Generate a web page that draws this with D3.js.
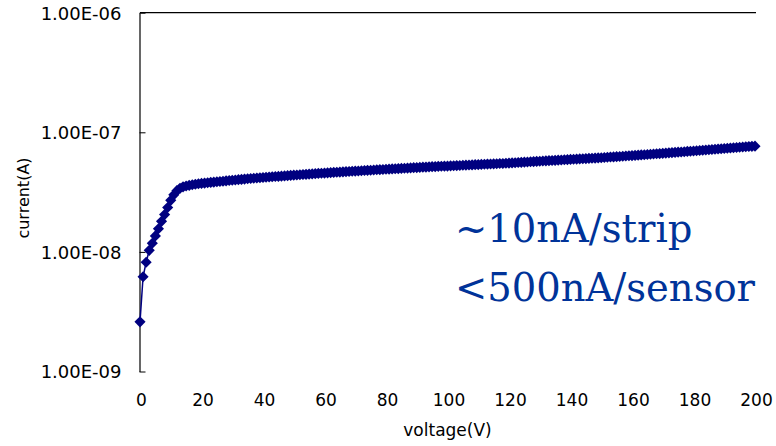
<!DOCTYPE html>
<html>
<head>
<meta charset="UTF-8">
<title>IV curve</title>
<style>
body { margin: 0; background: #fff; }
svg { display: block; }
.tick text { font-family: "DejaVu Sans", Verdana, sans-serif; fill: #000; }
</style>
</head>
<body>
<svg id="chart" width="776" height="446"></svg>
<script src="https://cdn.jsdelivr.net/npm/d3@7/dist/d3.min.js"></script>
<script>
// bias voltage in V, 1 V steps
let voltage = d3.range(0, 201);
// leakage current in nA
let currentNA = [
  2.6, 6.2, 8.2, 10.3, 11.8, 13.6, 15.6, 18.0, 20.5, 23.5,
  27.0, 30.0, 32.5, 34.0, 35.0, 35.6, 36.0, 36.4, 36.8, 37.1,
  37.4, 37.6, 37.9, 38.1, 38.3, 38.6, 38.8, 39.0, 39.3, 39.5,
  39.7, 39.9, 40.2, 40.4, 40.6, 40.9, 41.1, 41.3, 41.5, 41.7,
  41.9, 42.1, 42.3, 42.5, 42.7, 42.8, 43.0, 43.2, 43.4, 43.6,
  43.8, 44.0, 44.2, 44.4, 44.5, 44.7, 44.9, 45.1, 45.3, 45.5,
  45.6, 45.8, 46.0, 46.2, 46.3, 46.5, 46.7, 46.9, 47.0, 47.2,
  47.4, 47.5, 47.7, 47.9, 48.1, 48.2, 48.4, 48.6, 48.7, 48.9,
  49.1, 49.2, 49.4, 49.6, 49.7, 49.9, 50.1, 50.2, 50.4, 50.6,
  50.7, 50.9, 51.1, 51.2, 51.4, 51.6, 51.7, 51.9, 52.0, 52.1,
  52.2, 52.4, 52.5, 52.7, 52.8, 53.0, 53.1, 53.3, 53.4, 53.6,
  53.7, 53.9, 54.0, 54.2, 54.3, 54.5, 54.6, 54.8, 54.9, 55.1,
  55.3, 55.5, 55.7, 55.9, 56.1, 56.3, 56.5, 56.7, 56.9, 57.1,
  57.3, 57.5, 57.7, 57.9, 58.1, 58.3, 58.5, 58.7, 58.9, 59.1,
  59.3, 59.5, 59.7, 59.9, 60.1, 60.3, 60.5, 60.7, 60.9, 61.1,
  61.3, 61.6, 61.8, 62.1, 62.3, 62.6, 62.8, 63.1, 63.3, 63.6,
  63.9, 64.1, 64.4, 64.7, 64.9, 65.2, 65.5, 65.8, 66.1, 66.4,
  66.7, 67.0, 67.3, 67.6, 67.9, 68.2, 68.5, 68.8, 69.2, 69.5,
  69.8, 70.1, 70.5, 70.8, 71.1, 71.5, 71.8, 72.2, 72.5, 72.9,
  73.2, 73.6, 73.9, 74.3, 74.6, 75.0, 75.3, 75.7, 76.0, 76.3,
  76.6
];
let xTicks = [0, 20, 40, 60, 80, 100, 120, 140, 160, 180, 200];
let yTicks = [1e-9, 1e-8, 1e-7, 1e-6];
let yTickLabels = ["1.00E-09", "1.00E-08", "1.00E-07", "1.00E-06"];
let notes = ["~10nA/strip", "<500nA/sensor"];

let points = voltage.map((v, i) => ({ v: v, i: currentNA[i] * 1e-9 }));

let svg = d3.select("#chart");
let margin = { top: 12.7, right: 21, bottom: 74.5, left: 140 };
let width = 776, height = 446;

let x = d3.scaleLinear().domain([0, 200]).range([margin.left, width - margin.right]);
let y = d3.scaleLog().domain([1e-9, 1e-6]).range([height - margin.bottom, margin.top]);

// top border line
svg.append("line")
    .attr("x1", x(0)).attr("x2", x(200) + 1)
    .attr("y1", y(1e-6)).attr("y2", y(1e-6))
    .attr("stroke", "#000").attr("stroke-width", 1.2);

// y axis, ticks pointing into the plot
let yAxis = svg.append("g")
    .attr("transform", "translate(" + (margin.left - 0.5) + ",0)")
    .call(d3.axisRight(y).tickValues(yTicks).tickSize(6).tickSizeOuter(0)
        .tickFormat((d, i) => yTickLabels[i]));
yAxis.select(".domain").attr("stroke", "#000").attr("stroke-width", 1.2);
yAxis.selectAll(".tick line").attr("stroke", "#000");
yAxis.selectAll(".tick text")
    .attr("x", -18).attr("dy", "0.35em")
    .attr("text-anchor", "end")
    .style("font-size", "18px");

// x axis labels only (no axis line)
let xAxis = svg.append("g")
    .attr("transform", "translate(0," + (height - margin.bottom) + ")")
    .call(d3.axisBottom(x).tickValues(xTicks).tickSize(0).tickPadding(22));
xAxis.select(".domain").remove();
xAxis.selectAll(".tick text")
    .attr("dx", "1")
    .style("font-size", "17px");

// axis titles
svg.append("text")
    .attr("x", (x(0) + x(200)) / 2).attr("y", 436)
    .attr("text-anchor", "middle")
    .style("font-family", "DejaVu Sans, sans-serif").style("font-size", "17px")
    .text("voltage(V)");
svg.append("text")
    .attr("transform", "translate(29,198) rotate(-90)")
    .attr("text-anchor", "middle")
    .style("font-family", "DejaVu Sans, sans-serif").style("font-size", "16px")
    .text("current(A)");

// data line + diamond markers (square turned 45 degrees)
let line = d3.line().x(d => x(d.v)).y(d => y(d.i));
svg.append("path")
    .datum(points)
    .attr("d", line)
    .attr("fill", "none")
    .attr("stroke", "#000080")
    .attr("stroke-width", 1.5);

let diamond = d3.symbol().type(d3.symbolSquare).size(62);
svg.append("g")
    .selectAll("path")
    .data(points)
    .join("path")
    .attr("transform", d => "translate(" + x(d.v) + "," + y(d.i) + ") rotate(45)")
    .attr("d", diamond)
    .attr("fill", "#000080");

// annotation
svg.append("g")
    .selectAll("text")
    .data(notes)
    .join("text")
    .attr("x", 455)
    .attr("y", (d, i) => 242 + i * 59)
    .style("font-family", "DejaVu Serif, serif")
    .style("font-size", "38.5px")
    .attr("fill", "#003399")
    .text(d => d);
</script>
</body>
</html>
